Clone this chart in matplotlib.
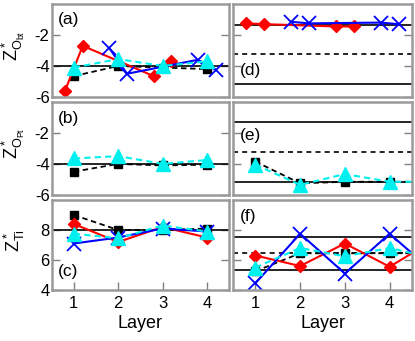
import matplotlib
matplotlib.use("Agg")
import matplotlib.pyplot as plt

plt.rcParams['font.family'] = ['Liberation Sans', 'DejaVu Sans']
plt.rcParams['mathtext.fontset'] = 'custom'
plt.rcParams['mathtext.rm'] = 'Liberation Sans'
plt.rcParams['mathtext.it'] = 'Liberation Sans'
plt.rcParams['mathtext.bf'] = 'Liberation Sans:bold'
plt.rcParams['axes.unicode_minus'] = False

# ---------------- data ----------------
layers = [1, 2, 3, 4]
layer_ticks = ["1", "2", "3", "4"]

# panel (a)
a_red_x = [0.8, 1.2, 2.8, 3.2]
a_red_y = [-5.6, -2.7, -4.65, -3.65]
a_blue_x = [1.8, 2.2, 3.8, 4.2]
a_blue_y = [-2.85, -4.5, -3.6, -4.25]
a_cyan = [-4.1, -3.55, -4.0, -3.7]
a_black = [-4.65, -4.0, -4.1, -4.2]
# panel (b)
b_cyan = [-3.65, -3.5, -4.0, -3.75]
b_black = [-4.5, -4.0, -4.1, -4.05]
# panel (c)
c_red = [8.4, 7.2, 8.2, 7.5]
c_blue = [7.1, 7.5, 8.1, 7.9]
c_cyan = [7.75, 7.45, 8.3, 7.9]
c_black = [9.0, 8.0, 8.0, 8.1]
# panel (d)
d_red_x = [0.8, 1.2, 2.8, 3.2]
d_red_y = [-1.25, -1.3, -1.45, -1.45]
d_blue_x = [1.8, 2.2, 3.8, 4.2]
d_blue_y = [-1.15, -1.25, -1.2, -1.3]
# panel (e)  (last entry: continuation to the edge)
e_x = [1, 2, 3, 4, 4.5]
e_cyan = [-4.05, -5.35, -4.65, -5.15, -5.15]
e_black = [-3.85, -5.25, -5.15, -5.15, -5.15]
# panel (f)
f_x = [1, 2, 3, 4, 4.5]
f_red = [6.3, 5.6, 7.1, 5.55, 6.45]
f_blue = [4.45, 7.75, 5.1, 7.75, 6.45]
f_cyan = [5.5, 6.8, 6.25, 6.8, 6.45]
f_black = [5.25, 6.45, 6.45, 6.45, 6.45]

# reference lines
ref_left_O = -4.0
ref_left_Ti = 8.0
ref_right_O_solid = [-1.33, -5.15]
ref_right_O_dash = -3.25
ref_right_Ti_solid = [7.55, 5.35]
ref_right_Ti_dash = 6.45

ylim_O = (-6, 0)
ylim_Ti = (4, 10)
yticks_O = [-6, -4, -2]
yticks_Ti = [4, 6, 8]

RED = '#ff0000'
BLUE = '#0000ff'
CYAN = '#00f0f0'
FRAME = '#9a9a9a'

fig = plt.figure(figsize=(4.15, 3.41), dpi=100)

lx, lw_ = 51.7 / 415, 177.3 / 415
rx, rw_ = 233 / 415, 179 / 415
rows = [(244 / 341, 93 / 341), (146 / 341, 93.3 / 341), (51 / 341, 90 / 341)]

axes = {}
names = [['a', 'd'], ['b', 'e'], ['c', 'f']]
for i, (b, h) in enumerate(rows):
    axes[names[i][0]] = fig.add_axes([lx, b, lw_, h])
    axes[names[i][1]] = fig.add_axes([rx, b, rw_, h])

def style(ax, ylim, yticks, showy, showx):
    ax.set_xlim(0.5, 4.5)
    ax.set_ylim(*ylim)
    for s in ax.spines.values():
        s.set_color(FRAME)
        s.set_linewidth(1.8)
    ax.set_yticks(yticks)
    ax.tick_params(axis='y', which='both', direction='in', left=True, right=True,
                   length=6, width=1.0, color='#808080', labelsize=12, pad=1.5,
                   labelleft=showy)
    if showx:
        ax.set_xticks(layers)
        ax.set_xticklabels(layer_ticks)
        ax.tick_params(axis='x', direction='in', bottom=True, top=False, length=6,
                       width=1.0, color='#808080', labelsize=12, pad=4)
        ax.set_xlabel('Layer', fontsize=13, labelpad=3)
    else:
        ax.set_xticks([])

for k in ['a', 'b']:
    style(axes[k], ylim_O, yticks_O, True, False)
style(axes['c'], ylim_Ti, yticks_Ti, True, True)
for k in ['d', 'e']:
    style(axes[k], ylim_O, yticks_O, False, False)
style(axes['f'], ylim_Ti, yticks_Ti, False, True)

red_kw = dict(color=RED, marker='D', ms=6.5, lw=1.5, ls='-')
blue_kw = dict(color=BLUE, marker='x', ms=10, mew=1.3, lw=1.5, ls='-')
cyan_kw = dict(color=CYAN, marker='^', ms=10, lw=1.5, ls='--', dashes=(3, 2))
black_kw = dict(color='black', marker='s', ms=6, lw=1.3, ls='--', dashes=(3, 2))

# (a)
ax = axes['a']
ax.axhline(ref_left_O, color='black', lw=1.2)
ax.plot(layers, a_black, **black_kw)
ax.plot(a_red_x, a_red_y, **red_kw)
ax.plot(a_blue_x, a_blue_y, **blue_kw)
ax.plot(layers, a_cyan, **cyan_kw)
# (b)
ax = axes['b']
ax.axhline(ref_left_O, color='black', lw=1.2)
ax.plot(layers, b_black, **black_kw)
ax.plot(layers, b_cyan, **cyan_kw)
# (c)
ax = axes['c']
ax.axhline(ref_left_Ti, color='black', lw=1.2)
ax.plot(layers, c_black, **black_kw)
ax.plot(layers, c_red, **red_kw)
ax.plot(layers, c_blue, **blue_kw)
ax.plot(layers, c_cyan, **cyan_kw)
# (d)
ax = axes['d']
for v in ref_right_O_solid:
    ax.axhline(v, color='black', lw=1.2)
ax.axhline(ref_right_O_dash, color='black', lw=1.2, ls='--', dashes=(3, 2.5))
ax.plot(d_red_x, d_red_y, **red_kw)
ax.plot(d_blue_x, d_blue_y, **blue_kw)
# (e)
ax = axes['e']
for v in ref_right_O_solid:
    ax.axhline(v, color='black', lw=1.2)
ax.axhline(ref_right_O_dash, color='black', lw=1.2, ls='--', dashes=(3, 2.5))
ax.plot(e_x, e_black, markevery=[0, 1, 2, 3], **black_kw)
ax.plot(e_x, e_cyan, markevery=[0, 1, 2, 3], **cyan_kw)
# (f)
ax = axes['f']
for v in ref_right_Ti_solid:
    ax.axhline(v, color='black', lw=1.2)
ax.axhline(ref_right_Ti_dash, color='black', lw=1.2, ls='--', dashes=(3, 2.5))
ax.plot(f_x, f_black, markevery=[0, 1, 2, 3], **black_kw)
ax.plot(f_x, f_red, markevery=[0, 1, 2, 3], **red_kw)
ax.plot(f_x, f_blue, markevery=[0, 1, 2, 3], **blue_kw)
ax.plot(f_x, f_cyan, markevery=[0, 1, 2, 3], **cyan_kw)

# panel labels
lab_pos = {'a': (0.035, 0.83), 'b': (0.035, 0.825), 'c': (0.035, 0.21),
           'd': (0.04, 0.29), 'e': (0.04, 0.635), 'f': (0.04, 0.82)}
for k, (x, y) in lab_pos.items():
    axes[k].text(x, y, '(%s)' % k, transform=axes[k].transAxes, fontsize=12.5,
                 ha='left', va='center')

# y labels
ylabels = {'a': r'$\mathregular{Z^*_{O_{bt}}}$', 'b': r'$\mathregular{Z^*_{O_{Pt}}}$',
           'c': r'$\mathregular{Z^*_{Ti}}$'}
for k, t in ylabels.items():
    axes[k].set_ylabel(t, fontsize=13)
    axes[k].yaxis.set_label_coords(-0.14, 0.55)

fig.savefig('out.png', dpi=100)
